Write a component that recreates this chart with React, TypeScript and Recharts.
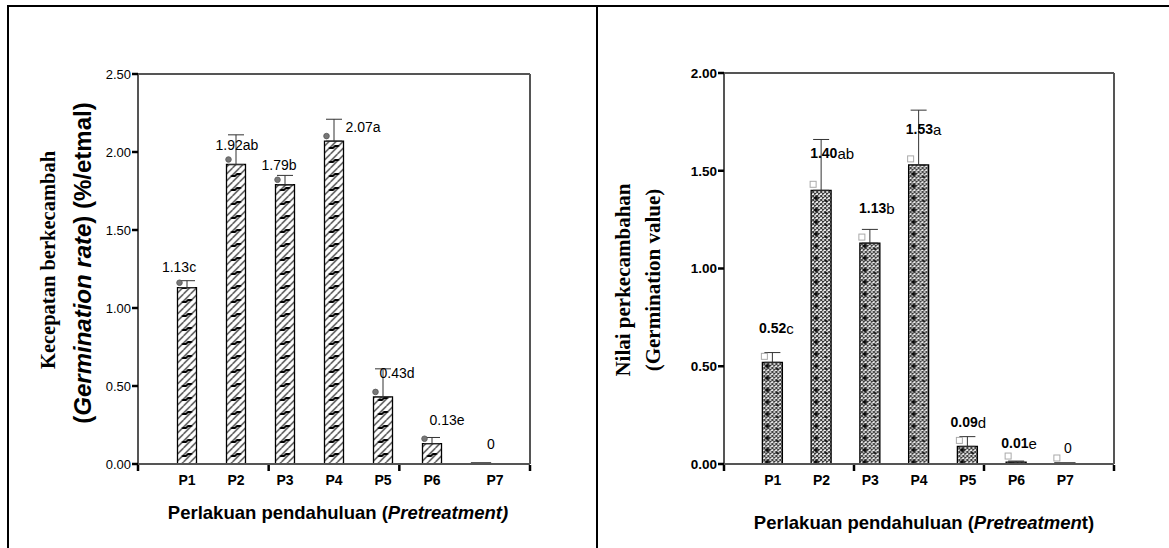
import React from "react";
import { BarChart, Bar, XAxis, YAxis, ErrorBar, LabelList } from "recharts";

// Data
const categories = ["P1", "P2", "P3", "P4", "P5", "P6", "P7"];

const rateMeans = [1.13, 1.92, 1.79, 2.07, 0.43, 0.13, 0];
const rateErrors = [0.045, 0.19, 0.06, 0.14, 0.18, 0.04, 0];
const rateLetters = ["c", "ab", "b", "a", "d", "e", ""];
const rateTicks = [0, 0.5, 1, 1.5, 2, 2.5];

const valueMeans = [0.52, 1.4, 1.13, 1.53, 0.09, 0.01, 0];
const valueErrors = [0.05, 0.26, 0.07, 0.28, 0.05, 0.005, 0];
const valueLetters = ["c", "ab", "b", "a", "d", "e", ""];
const valueTicks = [0, 0.5, 1, 1.5, 2];

// label placement relative to bar top centre (layout only)
const rateLabelNudge = [[-8, -21], [1, -19], [-6, -20], [29, -14], [14, -24], [15, -24], [10, -20]];
const valueLabelNudge = [[4, -34], [11, -37], [7, -35], [5, -36], [1, -24], [3, -19], [3, -16]];

const ARIAL = "Arial, 'Liberation Sans', Helvetica, sans-serif";
const TIMES = "'Times New Roman', 'Liberation Serif', Times, serif";
const FRAME = { stroke: "#555", strokeWidth: 2 };

function hatchPattern(id: string, x0: number, slot: number) {
  // diagonal hatch with a dark dash down the middle of each bar
  const lines = [];
  for (let a = -14; a <= slot + 7; a += 7) {
    lines.push(<line key={a} x1={a} y1={14} x2={a + 14} y2={0} stroke="#222" strokeWidth={1.1} />);
  }
  const c = slot / 2;
  return (
    <pattern id={id} patternUnits="userSpaceOnUse" x={x0 - c} y={0} width={slot} height={14}>
      <rect width={slot} height={14} fill="#fff" />
      {lines}
      <path d={`M${c - 5} 8 L${c - 1} 8 L${c + 1} 6 L${c + 5} 6`} stroke="#000" strokeWidth={2.2} fill="none" />
    </pattern>
  );
}

function checkPattern(id: string, x0: number, slot: number) {
  const c = slot / 2;
  return (
    <>
      <pattern id={id + "-x"} patternUnits="userSpaceOnUse" width={4} height={4}>
        <rect width={4} height={4} fill="#fff" />
        <path d="M0 0 L4 4 M4 0 L0 4" stroke="#333" strokeWidth={1} />
      </pattern>
      <pattern id={id} patternUnits="userSpaceOnUse" x={x0 - c} y={0} width={slot} height={12}>
        <rect width={slot} height={12} fill={`url(#${id}-x)`} />
        <path d={`M${c - 8} 6 L${c - 3} 6 M${c - 5.5} 3.5 L${c - 5.5} 8.5`} stroke="#000" strokeWidth={1.4} />
        <path d={`M${c + 3} 9 L${c + 6} 9`} stroke="#000" strokeWidth={1.4} />
      </pattern>
    </>
  );
}

function makeLabel(letters: string[], nudges: number[][], boldValue: boolean, marker: "dot" | "box", markerCount: number) {
  return (props: any) => {
    const vb = props.viewBox ?? props;
    const x = Number(vb.x);
    const h = Number(vb.height);
    const y = Number(vb.y) + (h < 0 ? h : 0);
    const w = Number(vb.width);
    const i = Number(props.index);
    const v = Number(props.value);
    const cx = x + w / 2;
    const [dx, dy] = nudges[i];
    const num = v === 0 ? "0" : v.toFixed(2);
    const top = v === 0 ? y + Math.abs(h) : y;
    return (
      <g>
        {i < markerCount &&
          (marker === "dot" ? (
            <circle cx={x + 2} cy={top - 5} r={2.8} fill="#777" stroke="#555" strokeWidth={0.8} />
          ) : (
            <rect x={x - 1} y={top - 9} width={6} height={6} fill="none" stroke="#aaa" strokeWidth={1} />
          ))}
        <text x={cx + dx} y={top + dy} textAnchor="middle" dominantBaseline="central" fontFamily={ARIAL} fontSize={14} fill="#000">
          <tspan fontWeight={boldValue && v !== 0 ? "bold" : "normal"}>{num}</tspan>
          <tspan fontSize={boldValue ? 15 : 14}>{letters[i]}</tspan>
        </text>
      </g>
    );
  };
}

function CatTick(props: any) {
  const { x, y, payload, lastNudge } = props;
  const dx = payload.value === "P7" ? lastNudge : 0;
  return (
    <text x={x + dx} y={y + 14} textAnchor="middle" dominantBaseline="central" fontFamily={ARIAL} fontSize={14} fontWeight="bold" fill="#000">
      {payload.value}
    </text>
  );
}

const NoLabel = () => <g />;

interface PanelProps {
  width: number;
  margin: { top: number; right: number; bottom: number; left: number };
  means: number[];
  errors: number[];
  letters: string[];
  ticks: number[];
  nudges: number[][];
  boldValue: boolean;
  boldTicks: boolean;
  lastNudge: number;
  marker: "dot" | "box";
  markerCount: number;
  patternKind: "hatch" | "check";
  barSize: number;
  id: string;
}

function Panel(p: PanelProps) {
  const data = categories.map((name, i) => ({ name, mean: p.means[i], errRange: [0, p.errors[i]] }));
  const plotW = p.width - p.margin.left - p.margin.right - 2;
  const slot = plotW / 8;
  const firstCentre = p.margin.left + 1 + slot;
  const yMax = p.ticks[p.ticks.length - 1];
  return (
    <BarChart width={p.width} height={548} data={data} margin={p.margin}>
      <defs>{p.patternKind === "hatch" ? hatchPattern(p.id, firstCentre, slot) : checkPattern(p.id, firstCentre, slot)}</defs>
      <XAxis
        xAxisId="cat"
        dataKey="name"
        height={1}
        interval={0}
        padding={{ left: slot / 2, right: slot / 2 }}
        axisLine={FRAME}
        tickLine={false}
        tickSize={0}
        tick={<CatTick lastNudge={p.lastNudge} />}
      />
      <XAxis
        xAxisId="marks"
        type="number"
        domain={[0, 8]}
        ticks={[0, 2, 4, 6, 8]}
        allowDataOverflow
        height={1}
        axisLine={false}
        tick={NoLabel}
        tickSize={6}
        tickLine={{ stroke: "#000", strokeWidth: 2.5 }}
      />
      <XAxis xAxisId="top" orientation="top" dataKey="name" height={1} tick={false} tickLine={false} axisLine={FRAME} />
      <YAxis
        yAxisId="v"
        width={1}
        domain={[0, yMax]}
        ticks={p.ticks}
        interval={0}
        axisLine={FRAME}
        tickSize={6}
        tickMargin={1}
        tickLine={{ stroke: "#000", strokeWidth: 2.5 }}
        tickFormatter={(v: number) => v.toFixed(2)}
        tick={{ fontSize: p.boldTicks ? 13.5 : 13, fill: "#000", fontFamily: ARIAL, fontWeight: p.boldTicks ? "bold" : "normal" }}
      />
      <YAxis yAxisId="r" orientation="right" width={1} domain={[0, yMax]} tick={false} tickLine={false} axisLine={FRAME} />
      <Bar
        xAxisId="cat"
        yAxisId="v"
        dataKey="mean"
        barSize={p.barSize}
        minPointSize={(v: number) => (v === 0 ? 1 : 0)}
        fill={`url(#${p.id})`}
        stroke="#000"
        strokeWidth={1.3}
        isAnimationActive={false}
      >
        <ErrorBar dataKey="errRange" direction="y" width={8} stroke="#333" strokeWidth={1} />
        <LabelList dataKey="mean" content={makeLabel(p.letters, p.nudges, p.boldValue, p.marker, p.markerCount)} />
      </Bar>
    </BarChart>
  );
}

const rotated = (x: number, y: number): React.CSSProperties => ({
  position: "absolute",
  left: x,
  top: y,
  transform: "translate(-50%, -50%) rotate(-90deg)",
  whiteSpace: "nowrap",
});

const xTitle = (x: number, y: number): React.CSSProperties => ({
  position: "absolute",
  left: x,
  top: y,
  transform: "translate(-50%, -50%)",
  whiteSpace: "nowrap",
  fontFamily: ARIAL,
  fontWeight: "bold",
  fontSize: 18.5,
});

export default function App() {
  return (
    <div style={{ position: "fixed", left: 0, top: 0, width: 1169, height: 548, background: "#fff", overflow: "hidden" }}>
      {/* table frame */}
      <div style={{ position: "absolute", left: 7, top: 5, width: 1162, height: 2, background: "#000" }} />
      <div style={{ position: "absolute", left: 7, top: 5, width: 2, height: 543, background: "#000" }} />
      <div style={{ position: "absolute", left: 596, top: 5, width: 2, height: 543, background: "#000" }} />

      <div style={{ position: "absolute", left: 0, top: 0 }}>
        <Panel
          id="rate"
          width={597}
          margin={{ top: 73, right: 66, bottom: 82, left: 137 }}
          means={rateMeans}
          errors={rateErrors}
          letters={rateLetters}
          ticks={rateTicks}
          nudges={rateLabelNudge}
          boldValue={false}
          boldTicks={false}
          lastNudge={14}
          marker="dot"
          markerCount={6}
          patternKind="hatch"
          barSize={19}
        />
      </div>
      <div style={{ position: "absolute", left: 597, top: 0 }}>
        <Panel
          id="gval"
          width={572}
          margin={{ top: 72, right: 54, bottom: 82, left: 126 }}
          means={valueMeans}
          errors={valueErrors}
          letters={valueLetters}
          ticks={valueTicks}
          nudges={valueLabelNudge}
          boldValue={true}
          boldTicks={true}
          lastNudge={0}
          marker="box"
          markerCount={7}
          patternKind="check"
          barSize={20}
        />
      </div>

      {/* axis titles */}
      <div style={{ ...rotated(48, 260), fontFamily: TIMES, fontWeight: "bold", fontSize: 20.5 }}>Kecepatan berkecambah</div>
      <div style={{ ...rotated(83, 263), fontFamily: ARIAL, fontWeight: "bold", fontSize: 24 }}>
        (<i>Germination rate</i>) (%/etmal)
      </div>
      <div style={{ ...rotated(623, 280), fontFamily: TIMES, fontWeight: "bold", fontSize: 21 }}>Nilai perkecambahan</div>
      <div style={{ ...rotated(653, 280), fontFamily: TIMES, fontWeight: "bold", fontSize: 21 }}>(Germination value)</div>

      <div style={xTitle(338, 513)}>
        Perlakuan pendahuluan (<i>Pretreatment)</i>
      </div>
      <div style={xTitle(924, 523)}>
        Perlakuan pendahuluan (<i>Pretreatmen</i>t)
      </div>
    </div>
  );
}
